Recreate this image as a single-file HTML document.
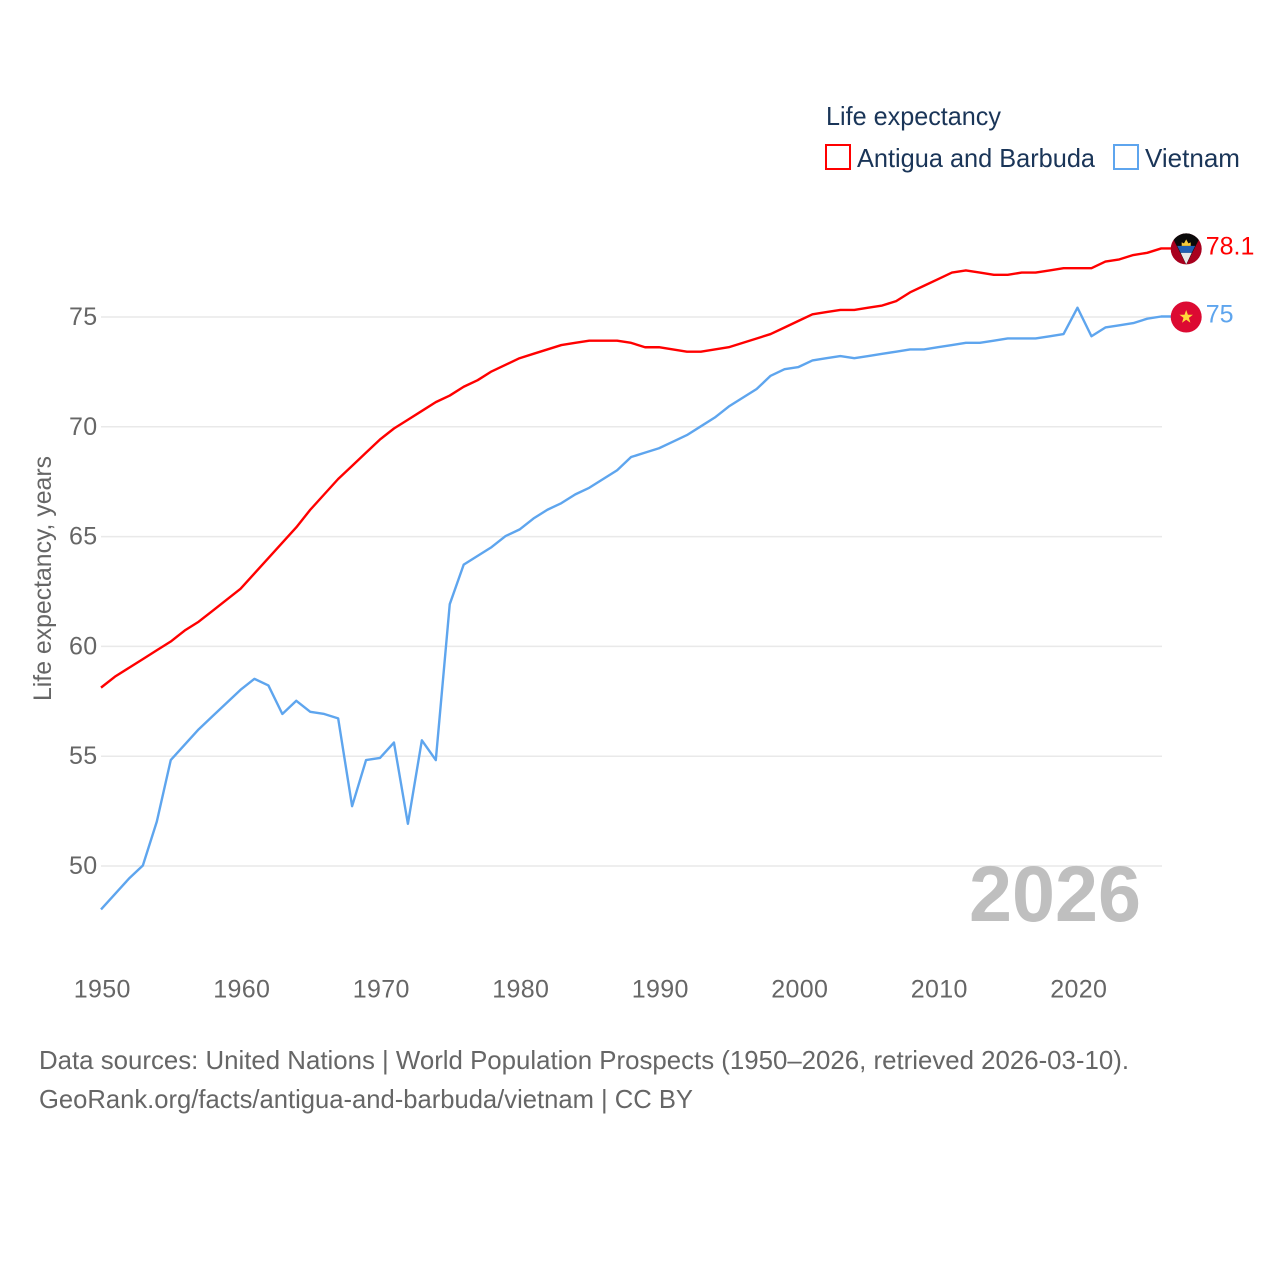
<!DOCTYPE html>
<html lang="en">
<head>
<meta charset="utf-8">
<title>Life expectancy: Antigua and Barbuda vs Vietnam</title>
<style>
  html, body { margin: 0; padding: 0; background: #fff; }
  svg { display: block; }
  text { font-family: "Liberation Sans", sans-serif; }
  .tick { font-size: 25px; fill: #666; letter-spacing: 0.35px; }
  .leg { font-size: 26px; fill: #1a3558; }
  .src { font-size: 26px; fill: #666; }
</style>
</head>
<body>
<svg id="chart" xmlns="http://www.w3.org/2000/svg" width="1280" height="1280" viewBox="0 0 1280 1280">
  <defs>
    <clipPath id="flag-clip"><circle cx="0" cy="0" r="15.5"></circle></clipPath>
  </defs>
  <rect x="0" y="0" width="1280" height="1280" fill="#fff"></rect>
  <g id="grid"></g>
  <g id="yticks"></g>
  <g id="xticks"></g>
  <text x="969" y="921" font-size="79" font-weight="700" fill="#bfbfbf" textLength="172" lengthAdjust="spacingAndGlyphs">2026</text>
  <g id="series" transform="translate(-0.5,-0.5)"></g>
  <text transform="translate(51,701) rotate(-90)" x="0" y="0" font-size="25" fill="#666" textLength="245" lengthAdjust="spacingAndGlyphs">Life expectancy, years</text>
  <g>
    <text class="leg" x="826" y="125" textLength="175" lengthAdjust="spacingAndGlyphs">Life expectancy</text>
    <rect x="826" y="145" width="24" height="24" fill="none" stroke="#ff0000" stroke-width="2"></rect>
    <text class="leg" x="857" y="167" textLength="238" lengthAdjust="spacingAndGlyphs">Antigua and Barbuda</text>
    <rect x="1114" y="145" width="24" height="24" fill="none" stroke="#5ea5ee" stroke-width="2"></rect>
    <text class="leg" x="1145" y="167" textLength="95" lengthAdjust="spacingAndGlyphs">Vietnam</text>
  </g>
  <g id="flags"></g>
  <g>
    <text class="src" x="39" y="1069" textLength="1090" lengthAdjust="spacingAndGlyphs">Data sources: United Nations | World Population Prospects (1950–2026, retrieved 2026-03-10).</text>
    <text class="src" x="39" y="1108" textLength="654" lengthAdjust="spacingAndGlyphs">GeoRank.org/facts/antigua-and-barbuda/vietnam | CC BY</text>
  </g>
</svg>
<script>
const startYear = 1950;
const xTickLabels = [1950, 1960, 1970, 1980, 1990, 2000, 2010, 2020];
const yTickLabels = [50, 55, 60, 65, 70, 75];
const antiguaValues = [
  58.1, 58.6, 59.0, 59.4, 59.8, 60.2, 60.7, 61.1, 61.6, 62.1,
  62.6, 63.3, 64.0, 64.7, 65.4, 66.2, 66.9, 67.6, 68.2, 68.8,
  69.4, 69.9, 70.3, 70.7, 71.1, 71.4, 71.8, 72.1, 72.5, 72.8,
  73.1, 73.3, 73.5, 73.7, 73.8, 73.9, 73.9, 73.9, 73.8, 73.6,
  73.6, 73.5, 73.4, 73.4, 73.5, 73.6, 73.8, 74.0, 74.2, 74.5,
  74.8, 75.1, 75.2, 75.3, 75.3, 75.4, 75.5, 75.7, 76.1, 76.4,
  76.7, 77.0, 77.1, 77.0, 76.9, 76.9, 77.0, 77.0, 77.1, 77.2,
  77.2, 77.2, 77.5, 77.6, 77.8, 77.9, 78.1
];
const vietnamValues = [
  48.0, 48.7, 49.4, 50.0, 52.0, 54.8, 55.5, 56.2, 56.8, 57.4,
  58.0, 58.5, 58.2, 56.9, 57.5, 57.0, 56.9, 56.7, 52.7, 54.8,
  54.9, 55.6, 51.9, 55.7, 54.8, 61.9, 63.7, 64.1, 64.5, 65.0,
  65.3, 65.8, 66.2, 66.5, 66.9, 67.2, 67.6, 68.0, 68.6, 68.8,
  69.0, 69.3, 69.6, 70.0, 70.4, 70.9, 71.3, 71.7, 72.3, 72.6,
  72.7, 73.0, 73.1, 73.2, 73.1, 73.2, 73.3, 73.4, 73.5, 73.5,
  73.6, 73.7, 73.8, 73.8, 73.9, 74.0, 74.0, 74.0, 74.1, 74.2,
  75.4, 74.1, 74.5, 74.6, 74.7, 74.9, 75.0
];

const NS = 'http://www.w3.org/2000/svg';
const xScale = function (year) { return 101.5 + (year - 1950) * 13.95; };
const yScale = function (v) { return 866 - (v - 50) * 21.96; };
const make = function (tag, attrs, parent) {
  const el = document.createElementNS(NS, tag);
  Object.keys(attrs).forEach(function (k) { el.setAttribute(k, attrs[k]); });
  parent.appendChild(el);
  return el;
};

const grid = document.getElementById('grid');
const yticks = document.getElementById('yticks');
yTickLabels.forEach(function (t) {
  const line = make('line', { x1: 101, x2: 1162, y1: yScale(t), y2: yScale(t), stroke: '#e9e9e9', 'stroke-width': 1.5 }, grid);
  
  
  const label = make('text', { class: 'tick', x: 97.5, y: yScale(t) + 8, 'text-anchor': 'end' }, yticks);
  label.textContent = String(t);
  
  
});

const xticks = document.getElementById('xticks');
xTickLabels.forEach(function (t) {
  const label = make('text', { class: 'tick', x: xScale(t) + 0.7, y: 997.5, 'text-anchor': 'middle' }, xticks);
  label.textContent = String(t);
  
  
});

const seriesGroup = document.getElementById('series');
const flagsGroup = document.getElementById('flags');
const flagX = function (values) { return xScale(startYear + values.length - 1) + 24.5; };

const drawLine = function (values, color) {
  const pts = values.map(function (v, i) { return xScale(startYear + i).toFixed(2) + ',' + yScale(v).toFixed(2); });
  pts.push(flagX(values).toFixed(2) + ',' + yScale(values[values.length - 1]).toFixed(2));
  const line = make('polyline', { points: pts.join(' '), fill: 'none', stroke: color, 'stroke-width': 2.4, 'stroke-linejoin': 'round' }, seriesGroup);
  return line;
};

const vietnamLine = drawLine(vietnamValues, '#5ea5ee');


const antiguaLine = drawLine(antiguaValues, '#ff0000');



const drawEnd = function (values, color) {
  const last = values[values.length - 1];
  const cx = flagX(values);
  const cy = yScale(last);
  const g = make('g', { transform: 'translate(' + cx.toFixed(2) + ',' + cy.toFixed(2) + ')' }, flagsGroup);
  const label = make('text', { x: cx + 19.5, y: cy + 5.5, 'font-size': 25, fill: color }, flagsGroup);
  label.textContent = String(last);
  
  
  return g;
};

const antiguaFlag = drawEnd(antiguaValues, '#ff0000');


const aClip = make('g', { 'clip-path': 'url(#flag-clip)' }, antiguaFlag);
make('rect', { x: -16, y: -16, width: 32, height: 32, fill: '#a8001e' }, aClip);
make('polygon', { points: '-16,-16 16,-16 0,16', fill: '#0a0a0a' }, aClip);
make('polygon', { points: '-9,-3 9,-3 5.5,4 -5.5,4', fill: '#1f5fb4' }, aClip);
make('polygon', { points: '-5.5,4 5.5,4 0,15.5', fill: '#e8e8e8' }, aClip);
make('polygon', { points: '-4.5,-3 -4.5,-6.5 -2.2,-5.5 0,-9.5 2.2,-5.5 4.5,-6.5 4.5,-3', fill: '#f5c93a' }, aClip);

const vietnamFlag = drawEnd(vietnamValues, '#5ea5ee');


const vClip = make('g', { 'clip-path': 'url(#flag-clip)' }, vietnamFlag);
make('rect', { x: -16, y: -16, width: 32, height: 32, fill: '#dc0a32' }, vClip);
make('polygon', { points: '0,-7 1.7,-2.2 6.7,-2.2 2.7,0.9 4.2,5.7 0,2.8 -4.2,5.7 -2.7,0.9 -6.7,-2.2 -1.7,-2.2', fill: '#ffd83a' }, vClip);
</script>
</body>
</html>
